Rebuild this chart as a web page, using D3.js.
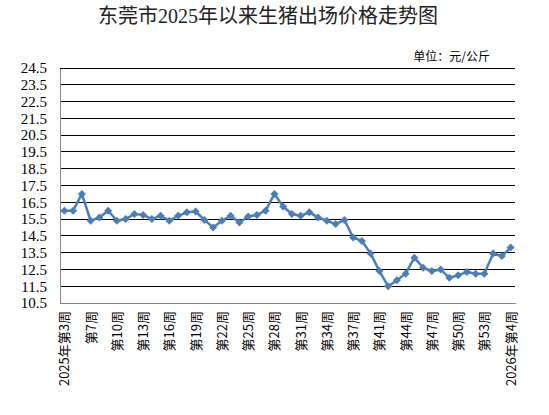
<!DOCTYPE html>
<html>
<head>
<meta charset="utf-8">
<script src="https://cdn.jsdelivr.net/npm/d3@7"></script>
<style>
  body { margin: 0; background: #fff; }
</style>
</head>
<body>
<div id="chart"></div>
<script>
// week labels (only every 3rd is drawn, like the original)
const weeks = [
  "2025年第3周", "第4周", "第6周", "第7周", "第8周", "第9周", "第10周", "第11周", "第12周",
  "第13周", "第14周", "第15周", "第16周", "第17周", "第18周", "第19周", "第20周", "第21周",
  "第22周", "第23周", "第24周", "第25周", "第26周", "第27周", "第28周", "第29周", "第30周",
  "第31周", "第32周", "第33周", "第34周", "第35周", "第36周", "第37周", "第38周", "第39周",
  "第41周", "第42周", "第43周", "第44周", "第45周", "第46周", "第47周", "第48周", "第49周",
  "第50周", "第51周", "第52周", "第53周", "2026年第2周", "2026年第3周", "2026年第4周"
];
// price, yuan / kg
const prices = [
  16.0, 16.0, 17.0, 15.4, 15.6, 16.0, 15.4, 15.5, 15.8,
  15.75, 15.5, 15.7, 15.4, 15.7, 15.9, 15.95, 15.45, 15.0,
  15.4, 15.7, 15.3, 15.65, 15.75, 16.0, 17.0, 16.25, 15.8,
  15.7, 15.9, 15.6, 15.4, 15.2, 15.45, 14.4, 14.2, 13.45,
  12.4, 11.5, 11.85, 12.25, 13.2, 12.6, 12.4, 12.5, 12.0,
  12.15, 12.35, 12.25, 12.25, 13.45, 13.3, 13.8
];
const yTicks = [10.5, 11.5, 12.5, 13.5, 14.5, 15.5, 16.5, 17.5, 18.5, 19.5, 20.5, 21.5, 22.5, 23.5, 24.5];

const width = 549, height = 415;
const plot = { left: 60, right: 515, top: 68, bottom: 303 };

const svg = d3.select("#chart").append("svg")
  .attr("width", width)
  .attr("height", height);

svg.append("text")
  .attr("x", 268)
  .attr("y", 23)
  .attr("text-anchor", "middle")
  .style("font", "20px 'Liberation Serif', 'Noto Sans CJK SC', serif")
  .style("fill", "#222")
  .text("东莞市2025年以来生猪出场价格走势图");

svg.append("text")
  .attr("x", 490)
  .attr("y", 61)
  .attr("text-anchor", "end")
  .style("font", "12px 'Noto Sans CJK SC', sans-serif")
  .style("fill", "#000")
  .text("单位：元/公斤");

const x = d3.scalePoint().domain(weeks).range([plot.left, plot.right]).padding(0.5);
const y = d3.scaleLinear().domain([10.5, 24.5]).range([plot.bottom, plot.top]);

// horizontal gridlines
svg.append("g")
  .selectAll("line")
  .data(yTicks.slice(1))
  .enter().append("line")
  .attr("x1", plot.left)
  .attr("x2", plot.right)
  .attr("y1", d => y(d))
  .attr("y2", d => y(d))
  .attr("stroke", "#000")
  .attr("stroke-width", 1)
  .attr("shape-rendering", "crispEdges");

// y axis
const yAxis = svg.append("g")
  .attr("transform", `translate(${plot.left},0)`)
  .call(d3.axisLeft(y).tickValues(yTicks).tickSize(0).tickPadding(13).tickFormat(d3.format(".1f")));
yAxis.select(".domain").attr("stroke", "#888").attr("shape-rendering", "crispEdges");
yAxis.selectAll("text")
  .style("font", "15px 'Liberation Serif', serif")
  .style("fill", "#000");

// x axis
const shown = weeks.filter((d, i) => i % 3 === 0);
const xAxis = svg.append("g")
  .attr("transform", `translate(0,${plot.bottom})`)
  .call(d3.axisBottom(x).tickValues(shown).tickSize(0).tickSizeOuter(0));
xAxis.select(".domain").attr("stroke", "#888").attr("shape-rendering", "crispEdges");
xAxis.selectAll("text")
  .attr("transform", "rotate(-90)")
  .attr("x", -8)
  .attr("y", 0)
  .attr("dy", "0.35em")
  .attr("text-anchor", "end")
  .style("font", "13px 'Noto Sans CJK SC', sans-serif")
  .style("fill", "#000");

// price line
const line = d3.line()
  .x((d, i) => x(weeks[i]))
  .y(d => y(d));

svg.append("path")
  .datum(prices)
  .attr("fill", "none")
  .attr("stroke", "#4a7ebb")
  .attr("stroke-width", 2.5)
  .attr("stroke-linejoin", "round")
  .attr("d", line);

// square diamonds like excel markers
svg.append("g")
  .selectAll("path")
  .data(prices)
  .enter().append("path")
  .attr("transform", (d, i) => `translate(${x(weeks[i])},${y(d)}) rotate(45)`)
  .attr("d", d3.symbol().type(d3.symbolSquare).size(32))
  .attr("fill", "#4a7ebb");
</script>
</body>
</html>
